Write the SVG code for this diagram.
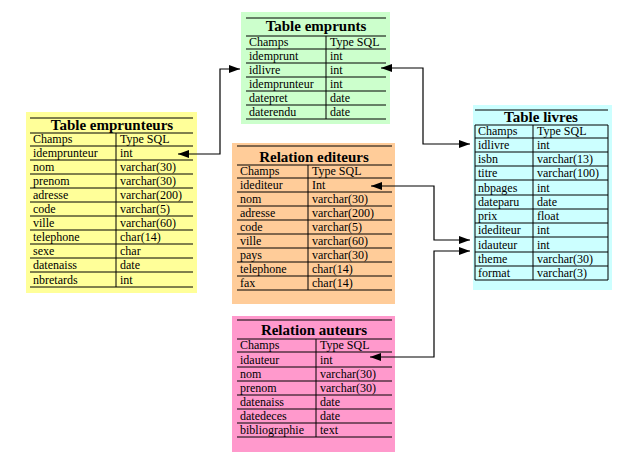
<svg xmlns="http://www.w3.org/2000/svg" width="620" height="458" viewBox="0 0 620 458">
<style>
text{font-family:"Liberation Serif","Times New Roman",serif;font-size:12px;fill:#000}
.t{font-size:15px;font-weight:bold;text-anchor:middle}
.l{stroke:#000;stroke-width:1;fill:none}
.c{stroke:#000;stroke-width:1.2;fill:none;marker-start:url(#ah);marker-end:url(#ah)}
</style>
<defs>
<marker id="ah" markerUnits="userSpaceOnUse" markerWidth="12" markerHeight="10" refX="11" refY="4" orient="auto-start-reverse">
<path d="M0,0 L11,4 L0,8 Z" fill="#000"/>
</marker>
</defs>
<rect width="620" height="458" fill="#fff"/>

<g id="emprunts">
<rect x="241" y="12" width="149" height="112" fill="#ccffcc"/>
<path class="l" d="M246,18H386M246,36H386M246,49H386M246,63H386M246,77H386M246,91H386M246,105H386M246,119H386M326,36V119"/>
<text class="t" x="316" y="31">Table emprunts</text>
<text x="249" y="46">Champs</text><text x="330" y="46">Type SQL</text>
<text x="249" y="60">idemprunt</text><text x="330" y="60">int</text>
<text x="249" y="74">idlivre</text><text x="330" y="74">int</text>
<text x="249" y="88">idemprunteur</text><text x="330" y="88">int</text>
<text x="249" y="102">datepret</text><text x="330" y="102">date</text>
<text x="249" y="116">daterendu</text><text x="330" y="116">date</text>
</g>

<g id="emprunteurs">
<rect x="26" y="112" width="171" height="181" fill="#ffff99"/>
<path class="l" d="M30,118H193M30,133H193M30,146H193M30,160H193M30,174H193M30,188H193M30,202H193M30,216H193M30,230H193M30,244H193M30,258H193M30,272H193M30,287H193M116,133V287"/>
<text class="t" x="112" y="130">Table emprunteurs</text>
<text x="33" y="143">Champs</text><text x="120" y="143">Type SQL</text>
<text x="33" y="157">idemprunteur</text><text x="120" y="157">int</text>
<text x="33" y="171">nom</text><text x="120" y="171">varchar(30)</text>
<text x="33" y="185">prenom</text><text x="120" y="185">varchar(30)</text>
<text x="33" y="199">adresse</text><text x="120" y="199">varchar(200)</text>
<text x="33" y="213">code</text><text x="120" y="213">varchar(5)</text>
<text x="33" y="227">ville</text><text x="120" y="227">varchar(60)</text>
<text x="33" y="241">telephone</text><text x="120" y="241">char(14)</text>
<text x="33" y="255">sexe</text><text x="120" y="255">char</text>
<text x="33" y="269">datenaiss</text><text x="120" y="269">date</text>
<text x="33" y="284">nbretards</text><text x="120" y="284">int</text>
</g>

<g id="editeurs">
<rect x="232" y="143" width="163" height="161" fill="#ffcc99"/>
<path class="l" d="M237,146H392M237,165H392M237,178H392M237,192H392M237,206H392M237,220H392M237,234H392M237,248H392M237,262H392M237,276H392M237,290H392M308,165V290"/>
<text class="t" x="314" y="162">Relation editeurs</text>
<text x="240" y="175">Champs</text><text x="312" y="175">Type SQL</text>
<text x="240" y="189">idediteur</text><text x="312" y="189">Int</text>
<text x="240" y="203">nom</text><text x="312" y="203">varchar(30)</text>
<text x="240" y="217">adresse</text><text x="312" y="217">varchar(200)</text>
<text x="240" y="231">code</text><text x="312" y="231">varchar(5)</text>
<text x="240" y="245">ville</text><text x="312" y="245">varchar(60)</text>
<text x="240" y="259">pays</text><text x="312" y="259">varchar(30)</text>
<text x="240" y="273">telephone</text><text x="312" y="273">char(14)</text>
<text x="240" y="287">fax</text><text x="312" y="287">char(14)</text>
</g>

<g id="livres">
<rect x="473" y="105" width="139" height="185" fill="#ccffff"/>
<path class="l" d="M475,110H608M475,125H608M475,138H608M475,152H608M475,166H608M475,180H608M475,195H608M475,209H608M475,223H608M475,237H608M475,252H608M475,266H608M475,280H608M533,125V280M475,125V280M608,125V280"/>
<text class="t" x="541" y="122">Table livres</text>
<text x="478" y="135">Champs</text><text x="537" y="135">Type SQL</text>
<text x="478" y="149">idlivre</text><text x="537" y="149">int</text>
<text x="478" y="163">isbn</text><text x="537" y="163">varchar(13)</text>
<text x="478" y="177">titre</text><text x="537" y="177">varchar(100)</text>
<text x="478" y="192">nbpages</text><text x="537" y="192">int</text>
<text x="478" y="206">dateparu</text><text x="537" y="206">date</text>
<text x="478" y="220">prix</text><text x="537" y="220">float</text>
<text x="478" y="234">idediteur</text><text x="537" y="234">int</text>
<text x="478" y="249">idauteur</text><text x="537" y="249">int</text>
<text x="478" y="263">theme</text><text x="537" y="263">varchar(30)</text>
<text x="478" y="277">format</text><text x="537" y="277">varchar(3)</text>
</g>

<g id="auteurs">
<rect x="232" y="316" width="163" height="136" fill="#ff99cc"/>
<path class="l" d="M237,320H392M237,339H392M237,352H392M237,367H392M237,381H392M237,395H392M237,409H392M237,423H392M237,437H392M316,339V437"/>
<text class="t" x="314" y="335">Relation auteurs</text>
<text x="240" y="349">Champs</text><text x="320" y="349">Type SQL</text>
<text x="240" y="364">idauteur</text><text x="320" y="364">int</text>
<text x="240" y="378">nom</text><text x="320" y="378">varchar(30)</text>
<text x="240" y="392">prenom</text><text x="320" y="392">varchar(30)</text>
<text x="240" y="406">datenaiss</text><text x="320" y="406">date</text>
<text x="240" y="420">datedeces</text><text x="320" y="420">date</text>
<text x="240" y="434">bibliographie</text><text x="320" y="434">text</text>
</g>

<g id="connectors">
<path class="c" d="M178,154H220V69H240"/>
<path class="c" d="M381,68H423V144H470"/>
<path class="c" d="M371,186H434V240H470"/>
<path class="c" d="M370,357H434V251H470"/>
</g>
</svg>
